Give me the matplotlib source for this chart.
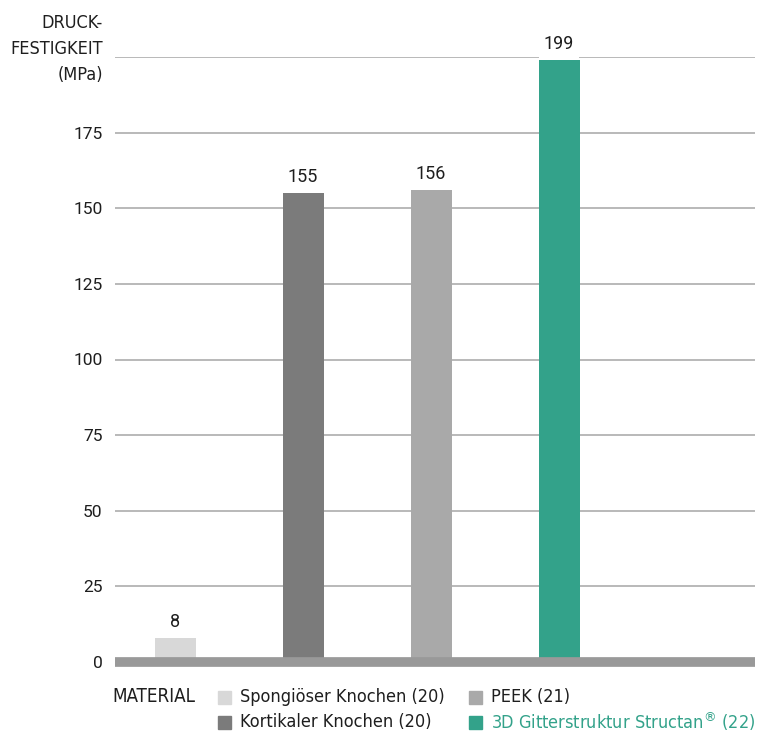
import matplotlib.pyplot as plt
from matplotlib.patches import Rectangle

materials = ['Spongiöser Knochen (20)', 'Kortikaler Knochen (20)', 'PEEK (21)',
             '3D Gitterstruktur Structan$^{®}$ (22)']
strength = [8, 155, 156, 199]
colors = ['#d8d8d8', '#7b7b7b', '#a9a9a9', '#33a28a']
yticks = [0, 25, 50, 75, 100, 125, 150, 175, 200]
ytick_labels = ['0', '25', '50', '75', '100', '125', '150', '175', '']

W, H = 764, 733
fig = plt.figure(figsize=(W / 100, H / 100), dpi=100)
ax = fig.add_axes([115 / W, 1 - 662 / H, 640 / W, 605 / H])

narrow = dict(family='DejaVu Sans', stretch='condensed')
num_font = ['Roboto', 'DejaVu Sans']
txt_col = '#1e1e1e'

x = list(range(len(strength)))
ax.bar(x, strength, width=0.32, color=colors, zorder=2)
ax.set_xlim(-0.47, 4.53)
ax.set_ylim(0, 200)

# thick baseline over the bar feet
ax.axhline(0, color='#999999', lw=7, zorder=3, clip_on=False,
           solid_capstyle='butt')

for xi, v in zip(x, strength):
    ax.annotate(str(v), (xi, v), xytext=(0, 5), textcoords='offset points',
                ha='center', va='bottom', fontsize=13, family=num_font,
                color=txt_col, zorder=4, annotation_clip=False,
                bbox=dict(boxstyle='square,pad=0.25', fc='white', ec='none'))

ax.set_yticks(yticks)
ax.set_yticklabels(ytick_labels, family=num_font, fontsize=12.5, color=txt_col)
ax.set_xticks([])
ax.tick_params(axis='y', length=0, pad=9)
ax.yaxis.grid(True, color='#a6a6a6', lw=1.1, zorder=0)
ax.set_axisbelow(True)
for s in ax.spines.values():
    s.set_visible(False)

fig.text(103 / W, 1 - 49 / H, 'DRUCK-\nFESTIGKEIT\n(MPa)', ha='right', va='center',
         fontsize=13, color=txt_col, linespacing=1.55, **narrow)

# legend
fig.text(112 / W, 1 - 697 / H, 'MATERIAL', ha='left', va='center',
         fontsize=13.5, color=txt_col, **narrow)
pos = [(218, 697), (218, 722), (469, 697), (469, 722)]
for (px, py), lab, c in zip(pos, materials, colors):
    fig.add_artist(Rectangle((px / W, 1 - (py + 6.5) / H), 13 / W, 13 / H,
                             transform=fig.transFigure, color=c))
    tc = '#33a28a' if c == '#33a28a' else txt_col
    fig.text((px + 22) / W, 1 - py / H, lab, ha='left', va='center',
             fontsize=13, color=tc, **narrow)

fig.savefig('out.png', dpi=100)
